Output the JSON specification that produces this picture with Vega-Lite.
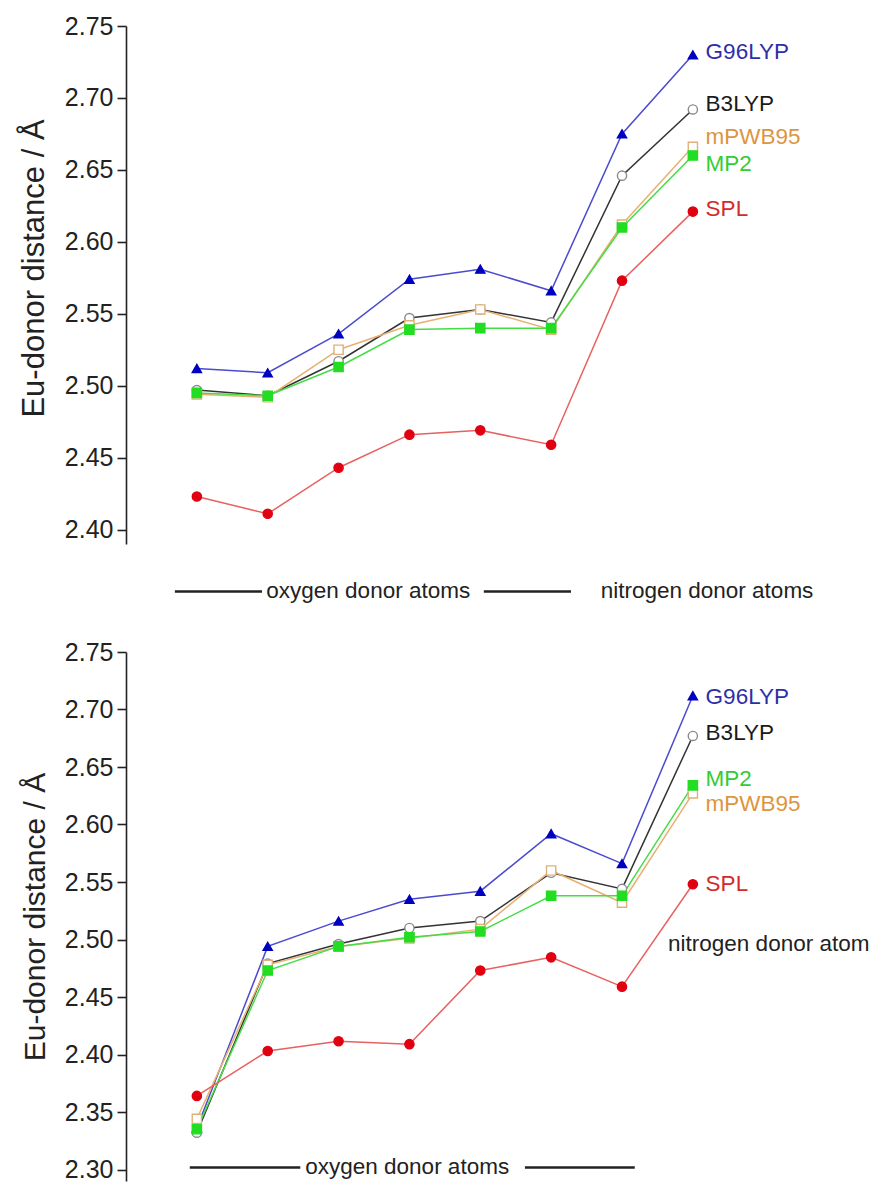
{
  "$schema": "https://vega.github.io/schema/vega-lite/v6.json",
  "background": "white",
  "padding": {"left": 18, "top": 14, "right": 0, "bottom": 0},
  "config": {"view": {"stroke": null}, "font": "Liberation Sans"},
  "datasets": {
    "top": [
      {"method": "G96LYP", "x": 1, "y": 2.512}, {"method": "G96LYP", "x": 2, "y": 2.509}, {"method": "G96LYP", "x": 3, "y": 2.536}, {"method": "G96LYP", "x": 4, "y": 2.574},
      {"method": "G96LYP", "x": 5, "y": 2.581}, {"method": "G96LYP", "x": 6, "y": 2.566}, {"method": "G96LYP", "x": 7, "y": 2.675}, {"method": "G96LYP", "x": 8, "y": 2.730},
      {"method": "B3LYP", "x": 1, "y": 2.497}, {"method": "B3LYP", "x": 2, "y": 2.493}, {"method": "B3LYP", "x": 3, "y": 2.517}, {"method": "B3LYP", "x": 4, "y": 2.547},
      {"method": "B3LYP", "x": 5, "y": 2.553}, {"method": "B3LYP", "x": 6, "y": 2.544}, {"method": "B3LYP", "x": 7, "y": 2.646}, {"method": "B3LYP", "x": 8, "y": 2.692},
      {"method": "mPWB95", "x": 1, "y": 2.494}, {"method": "mPWB95", "x": 2, "y": 2.492}, {"method": "mPWB95", "x": 3, "y": 2.525}, {"method": "mPWB95", "x": 4, "y": 2.542},
      {"method": "mPWB95", "x": 5, "y": 2.553}, {"method": "mPWB95", "x": 6, "y": 2.539}, {"method": "mPWB95", "x": 7, "y": 2.612}, {"method": "mPWB95", "x": 8, "y": 2.666},
      {"method": "MP2", "x": 1, "y": 2.495}, {"method": "MP2", "x": 2, "y": 2.493}, {"method": "MP2", "x": 3, "y": 2.513}, {"method": "MP2", "x": 4, "y": 2.539},
      {"method": "MP2", "x": 5, "y": 2.540}, {"method": "MP2", "x": 6, "y": 2.540}, {"method": "MP2", "x": 7, "y": 2.610}, {"method": "MP2", "x": 8, "y": 2.660},
      {"method": "SPL", "x": 1, "y": 2.423}, {"method": "SPL", "x": 2, "y": 2.411}, {"method": "SPL", "x": 3, "y": 2.443}, {"method": "SPL", "x": 4, "y": 2.466},
      {"method": "SPL", "x": 5, "y": 2.469}, {"method": "SPL", "x": 6, "y": 2.459}, {"method": "SPL", "x": 7, "y": 2.573}, {"method": "SPL", "x": 8, "y": 2.621}
    ],
    "bottom": [
      {"method": "G96LYP", "x": 1, "y": 2.336}, {"method": "G96LYP", "x": 2, "y": 2.494}, {"method": "G96LYP", "x": 3, "y": 2.516}, {"method": "G96LYP", "x": 4, "y": 2.535},
      {"method": "G96LYP", "x": 5, "y": 2.542}, {"method": "G96LYP", "x": 6, "y": 2.592}, {"method": "G96LYP", "x": 7, "y": 2.566}, {"method": "G96LYP", "x": 8, "y": 2.712},
      {"method": "B3LYP", "x": 1, "y": 2.332}, {"method": "B3LYP", "x": 2, "y": 2.479}, {"method": "B3LYP", "x": 3, "y": 2.496}, {"method": "B3LYP", "x": 4, "y": 2.510},
      {"method": "B3LYP", "x": 5, "y": 2.516}, {"method": "B3LYP", "x": 6, "y": 2.558}, {"method": "B3LYP", "x": 7, "y": 2.544}, {"method": "B3LYP", "x": 8, "y": 2.677},
      {"method": "mPWB95", "x": 1, "y": 2.344}, {"method": "mPWB95", "x": 2, "y": 2.478}, {"method": "mPWB95", "x": 3, "y": 2.494}, {"method": "mPWB95", "x": 4, "y": 2.501},
      {"method": "mPWB95", "x": 5, "y": 2.509}, {"method": "mPWB95", "x": 6, "y": 2.560}, {"method": "mPWB95", "x": 7, "y": 2.532}, {"method": "mPWB95", "x": 8, "y": 2.627},
      {"method": "MP2", "x": 1, "y": 2.335}, {"method": "MP2", "x": 2, "y": 2.473}, {"method": "MP2", "x": 3, "y": 2.494}, {"method": "MP2", "x": 4, "y": 2.502},
      {"method": "MP2", "x": 5, "y": 2.507}, {"method": "MP2", "x": 6, "y": 2.538}, {"method": "MP2", "x": 7, "y": 2.538}, {"method": "MP2", "x": 8, "y": 2.634},
      {"method": "SPL", "x": 1, "y": 2.364}, {"method": "SPL", "x": 2, "y": 2.403}, {"method": "SPL", "x": 3, "y": 2.4115}, {"method": "SPL", "x": 4, "y": 2.409},
      {"method": "SPL", "x": 5, "y": 2.473}, {"method": "SPL", "x": 6, "y": 2.4845}, {"method": "SPL", "x": 7, "y": 2.459}, {"method": "SPL", "x": 8, "y": 2.548}
    ],
    "topLabels": [
      {"method": "G96LYP", "x": 8.18, "y": 2.732}, {"method": "B3LYP", "x": 8.18, "y": 2.696}, {"method": "mPWB95", "x": 8.18, "y": 2.673},
      {"method": "MP2", "x": 8.18, "y": 2.654}, {"method": "SPL", "x": 8.18, "y": 2.623}
    ],
    "bottomLabels": [
      {"method": "G96LYP", "x": 8.18, "y": 2.711}, {"method": "B3LYP", "x": 8.18, "y": 2.680}, {"method": "MP2", "x": 8.18, "y": 2.6395},
      {"method": "mPWB95", "x": 8.18, "y": 2.618}, {"method": "SPL", "x": 8.18, "y": 2.548}
    ],
    "topRules": [{"x1": 0.69, "x2": 1.92, "y": 2.357}, {"x1": 5.05, "x2": 6.28, "y": 2.357}],
    "topText": [{"label": "oxygen donor atoms", "x": 1.98, "y": 2.357}, {"label": "nitrogen donor atoms", "x": 6.70, "y": 2.357}],
    "bottomRules": [{"x1": 0.90, "x2": 2.46, "y": 2.3018}, {"x1": 5.63, "x2": 7.18, "y": 2.3018}],
    "bottomText": [{"label": "oxygen donor atoms", "x": 2.53, "y": 2.3018}, {"label": "nitrogen donor atom", "x": 7.65, "y": 2.496}]
  },
  "spacing": 108,
  "bounds": "flush",
  "resolve": {"scale": {"color": "independent", "fill": "independent", "stroke": "independent", "shape": "independent"}},
  "vconcat": [
    {
      "width": 744,
      "height": 518,
      "resolve": {"scale": {"color": "independent"}},
      "layer": [
        {
          "data": {"name": "top"},
          "mark": {"type": "line", "strokeWidth": 1.5},
          "encoding": {
            "x": {"field": "x", "type": "quantitative", "scale": {"domain": [0, 10.5], "nice": false, "zero": false}, "axis": null},
            "y": {"field": "y", "type": "quantitative", "scale": {"domain": [2.39, 2.75], "nice": false, "zero": false},
              "axis": {
                "values": [2.4, 2.425, 2.45, 2.475, 2.5, 2.525, 2.55, 2.575, 2.6, 2.625, 2.65, 2.675, 2.7, 2.725, 2.75],
                "labelExpr": "abs(datum.value*20 - round(datum.value*20)) < 0.001 ? format(datum.value, '.2f') : ''",
                "tickSize": {"condition": {"test": "abs(datum.value*20 - round(datum.value*20)) < 0.001", "value": 9}, "value": 5},
                "title": "Eu-donor distance / Å",
                "titleY": 242,
                "grid": false, "domainColor": "#222222", "domainWidth": 1.6, "tickColor": "#222222", "tickWidth": 1.6,
                "labelFont": "Liberation Sans", "labelFontSize": 25, "labelColor": "#222222", "labelPadding": 4,
                "titleFont": "Liberation Sans", "titleFontSize": 31, "titleFontWeight": "normal", "titleColor": "#222222", "titlePadding": 14
              }},
            "color": {"field": "method", "type": "nominal", "legend": null,
              "scale": {"domain": ["G96LYP", "B3LYP", "mPWB95", "MP2", "SPL"], "range": ["#4b4bd0", "#333333", "#e8b070", "#44dd44", "#e86060"]}},
            "order": {"field": "x", "type": "quantitative"}
          }
        },
        {
          "data": {"name": "top"},
          "mark": {"type": "point", "filled": true, "opacity": 1, "strokeWidth": 1.4, "size": 85},
          "encoding": {
            "x": {"field": "x", "type": "quantitative"},
            "y": {"field": "y", "type": "quantitative"},
            "shape": {"field": "method", "type": "nominal", "legend": null,
              "scale": {"domain": ["G96LYP", "B3LYP", "mPWB95", "MP2", "SPL"], "range": ["triangle-up", "circle", "square", "square", "circle"]}},
            "fill": {"field": "method", "type": "nominal", "legend": null,
              "scale": {"domain": ["G96LYP", "B3LYP", "mPWB95", "MP2", "SPL"], "range": ["#0000c0", "#ffffff", "#ffffff", "#22dd22", "#e00010"]}},
            "stroke": {"field": "method", "type": "nominal", "legend": null,
              "scale": {"domain": ["G96LYP", "B3LYP", "mPWB95", "MP2", "SPL"], "range": ["#0000c0", "#8a8a8a", "#e0b07a", "#22dd22", "#e00010"]}}
          }
        },
        {
          "data": {"name": "topLabels"},
          "mark": {"type": "text", "align": "left", "baseline": "middle", "font": "Liberation Sans", "fontSize": 22.5},
          "encoding": {
            "x": {"field": "x", "type": "quantitative"},
            "y": {"field": "y", "type": "quantitative"},
            "text": {"field": "method"},
            "color": {"field": "method", "type": "nominal", "legend": null,
              "scale": {"domain": ["G96LYP", "B3LYP", "mPWB95", "MP2", "SPL"], "range": ["#2e2ea8", "#1a1a1a", "#dd9540", "#33cc33", "#d42a2a"]}}
          }
        },
        {
          "data": {"name": "topRules"},
          "mark": {"type": "rule", "strokeWidth": 2.4, "color": "#222222"},
          "encoding": {
            "x": {"field": "x1", "type": "quantitative"},
            "x2": {"field": "x2"},
            "y": {"field": "y", "type": "quantitative"}
          }
        },
        {
          "data": {"name": "topText"},
          "mark": {"type": "text", "align": "left", "baseline": "middle", "font": "Liberation Sans", "fontSize": 22.5, "color": "#222222"},
          "encoding": {
            "x": {"field": "x", "type": "quantitative"},
            "y": {"field": "y", "type": "quantitative"},
            "text": {"field": "label"}
          }
        }
      ]
    },
    {
      "width": 744,
      "height": 529,
      "resolve": {"scale": {"color": "independent"}},
      "layer": [
        {
          "data": {"name": "bottom"},
          "mark": {"type": "line", "strokeWidth": 1.5},
          "encoding": {
            "x": {"field": "x", "type": "quantitative", "scale": {"domain": [0, 10.5], "nice": false, "zero": false}, "axis": null},
            "y": {"field": "y", "type": "quantitative", "scale": {"domain": [2.29, 2.75], "nice": false, "zero": false},
              "axis": {
                "values": [2.3, 2.325, 2.35, 2.375, 2.4, 2.425, 2.45, 2.475, 2.5, 2.525, 2.55, 2.575, 2.6, 2.625, 2.65, 2.675, 2.7, 2.725, 2.75],
                "labelExpr": "abs(datum.value*20 - round(datum.value*20)) < 0.001 ? format(datum.value, '.2f') : ''",
                "tickSize": {"condition": {"test": "abs(datum.value*20 - round(datum.value*20)) < 0.001", "value": 9}, "value": 5},
                "title": "Eu-donor distance / Å",
                "grid": false, "domainColor": "#222222", "domainWidth": 1.6, "tickColor": "#222222", "tickWidth": 1.6,
                "labelFont": "Liberation Sans", "labelFontSize": 25, "labelColor": "#222222", "labelPadding": 4,
                "titleFont": "Liberation Sans", "titleFontSize": 30, "titleFontWeight": "normal", "titleColor": "#222222", "titlePadding": 14
              }},
            "color": {"field": "method", "type": "nominal", "legend": null,
              "scale": {"domain": ["G96LYP", "B3LYP", "mPWB95", "MP2", "SPL"], "range": ["#4b4bd0", "#333333", "#e8b070", "#44dd44", "#e86060"]}},
            "order": {"field": "x", "type": "quantitative"}
          }
        },
        {
          "data": {"name": "bottom"},
          "mark": {"type": "point", "filled": true, "opacity": 1, "strokeWidth": 1.4, "size": 85},
          "encoding": {
            "x": {"field": "x", "type": "quantitative"},
            "y": {"field": "y", "type": "quantitative"},
            "shape": {"field": "method", "type": "nominal", "legend": null,
              "scale": {"domain": ["G96LYP", "B3LYP", "mPWB95", "MP2", "SPL"], "range": ["triangle-up", "circle", "square", "square", "circle"]}},
            "fill": {"field": "method", "type": "nominal", "legend": null,
              "scale": {"domain": ["G96LYP", "B3LYP", "mPWB95", "MP2", "SPL"], "range": ["#0000c0", "#ffffff", "#ffffff", "#22dd22", "#e00010"]}},
            "stroke": {"field": "method", "type": "nominal", "legend": null,
              "scale": {"domain": ["G96LYP", "B3LYP", "mPWB95", "MP2", "SPL"], "range": ["#0000c0", "#8a8a8a", "#e0b07a", "#22dd22", "#e00010"]}}
          }
        },
        {
          "data": {"name": "bottomLabels"},
          "mark": {"type": "text", "align": "left", "baseline": "middle", "font": "Liberation Sans", "fontSize": 22.5},
          "encoding": {
            "x": {"field": "x", "type": "quantitative"},
            "y": {"field": "y", "type": "quantitative"},
            "text": {"field": "method"},
            "color": {"field": "method", "type": "nominal", "legend": null,
              "scale": {"domain": ["G96LYP", "B3LYP", "mPWB95", "MP2", "SPL"], "range": ["#2e2ea8", "#1a1a1a", "#dd9540", "#33cc33", "#d42a2a"]}}
          }
        },
        {
          "data": {"name": "bottomRules"},
          "mark": {"type": "rule", "strokeWidth": 2.4, "color": "#222222"},
          "encoding": {
            "x": {"field": "x1", "type": "quantitative"},
            "x2": {"field": "x2"},
            "y": {"field": "y", "type": "quantitative"}
          }
        },
        {
          "data": {"name": "bottomText"},
          "mark": {"type": "text", "align": "left", "baseline": "middle", "font": "Liberation Sans", "fontSize": 22.5, "color": "#222222"},
          "encoding": {
            "x": {"field": "x", "type": "quantitative"},
            "y": {"field": "y", "type": "quantitative"},
            "text": {"field": "label"}
          }
        }
      ]
    }
  ]
}
